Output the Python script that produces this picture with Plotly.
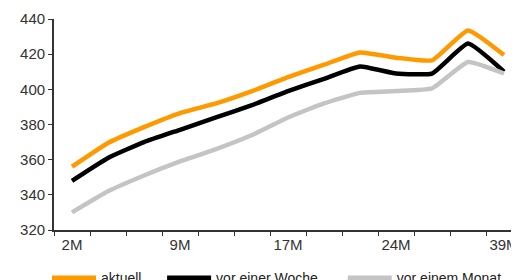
import plotly.graph_objects as go

categories = ["2M", "4M", "6M", "9M", "11M", "13M", "17M", "19M", "21M", "24M", "27M", "30M", "39M"]
tick_labels = ["2M", "9M", "17M", "24M", "39M"]
tick_positions = [0, 3, 6, 9, 12]

aktuell = [356, 369.5, 378.5, 386.5, 392, 399, 407, 414, 421, 418, 416.5, 433.5, 419.5]
vor_woche = [348, 361, 370, 377, 384, 391, 399, 406, 413, 409, 409, 426, 410]
vor_monat = [330, 342, 351, 359, 366, 374, 384, 392, 398, 399, 400.5, 415.5, 409]

x_idx = list(range(len(categories)))

fig = go.Figure()
series = [
    ("aktuell", aktuell, "#FF9900", "legend"),
    ("vor einer Woche", vor_woche, "#000000", "legend2"),
    ("vor einem Monat", vor_monat, "#C4C4C4", "legend3"),
]
for name, vals, col, lg in series:
    fig.add_trace(go.Scatter(
        x=x_idx, y=vals, name=name, mode="lines", legend=lg,
        line=dict(color=col, width=4.5, shape="spline", smoothing=0.4),
        hovertext=categories,
    ))

leg_common = dict(
    orientation="h", y=-0.152, yanchor="top", xanchor="left",
    font=dict(size=14, color="#222222"), itemwidth=44,
    bgcolor="rgba(0,0,0,0)",
)
fig.update_layout(
    width=519, height=280,
    margin=dict(l=46, r=5, t=11, b=58, autoexpand=False),
    paper_bgcolor="white", plot_bgcolor="white",
    font=dict(family="Liberation Sans, Arial, sans-serif", size=14, color="#333333"),
    showlegend=True,
    legend=dict(x=-0.015, **leg_common),
    legend2=dict(x=0.231, **leg_common),
    legend3=dict(x=0.617, **leg_common),
)
fig.update_xaxes(
    range=[-0.5, 12.5], tickmode="array", tickvals=tick_positions, ticktext=tick_labels,
    ticks="", showgrid=False, zeroline=False, automargin=False,
    showline=True, linecolor="#333333", linewidth=1.8,
    tickfont=dict(size=15, color="#333333"),
    minor=dict(ticks="outside", tick0=-0.5, dtick=1, ticklen=4, tickcolor="#333333", tickwidth=1, showgrid=False),
)
fig.update_yaxes(
    range=[320, 440], tickmode="array", tickvals=[320, 340, 360, 380, 400, 420, 440],
    ticks="outside", ticklen=4, tickcolor="#333333", tickwidth=1,
    showgrid=False, zeroline=False, automargin=False,
    showline=True, linecolor="#333333", linewidth=1.8,
    tickfont=dict(size=15, color="#333333"),
)

fig.write_html("out.html")
